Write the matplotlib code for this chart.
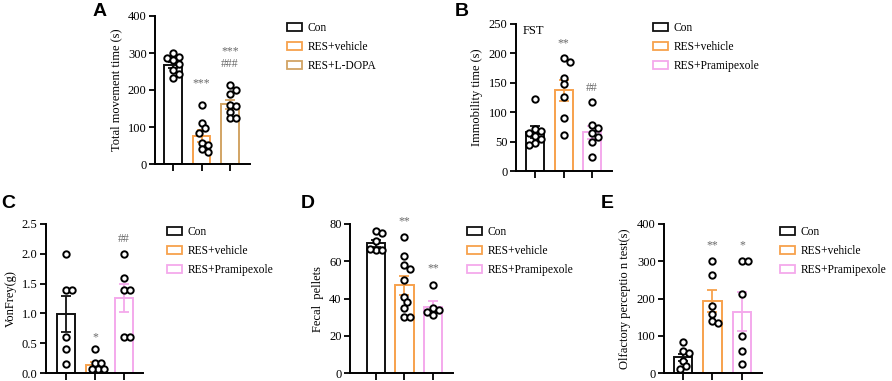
import matplotlib
matplotlib.use("Agg")
import matplotlib.pyplot as plt
from matplotlib.patches import Patch
import numpy as np

plt.rcParams["font.family"] = ["Liberation Serif", "DejaVu Serif"]

# colours
BLACK = "#111111"
ORANGE = "#F7A14C"
TAN = "#D2A464"
PINK = "#F4A9EC"
STAR = "#6a6a6a"

# ---- data ----
a_groups = ["Con", "RES+vehicle", "RES+L-DOPA"]
a_means = [268, 75, 161]
a_sem = [8, 16, 13]
a_points = [
    [300, 290, 287, 281, 270, 255, 243, 233],
    [159, 112, 96, 83, 58, 51, 40, 33],
    [213, 200, 189, 160, 157, 140, 123, 123],
]
a_marks = [("***", 202), ("***\n###", 253)]

b_groups = ["Con", "RES+vehicle", "RES+Pramipexole"]
b_means = [66, 137, 66]
b_sem = [10, 18, 11]
b_points = [
    [122, 72, 68, 65, 60, 55, 48, 45],
    [193, 185, 159, 148, 126, 90, 62],
    [118, 79, 73, 65, 58, 49, 24],
]
b_marks = [("**", 207), ("##", 131)]

c_means = [0.99, 0.14, 1.26]
c_sem = [0.30, 0.05, 0.23]
c_points = [
    [2.0, 1.4, 1.4, 0.6, 0.4, 0.15],
    [0.4, 0.16, 0.16, 0.06, 0.06, 0.06],
    [2.0, 1.6, 1.4, 1.4, 0.6, 0.6],
]
c_marks = [("*", 0.50), ("##", 2.14)]

d_means = [69.6, 47, 35.6]
d_sem = [2.0, 5.0, 3.0]
d_points = [
    [76, 75, 71, 66, 66, 66.5],
    [73, 63, 58, 56, 50, 41, 38, 35, 30, 30],
    [47, 35, 34, 33, 31],
]
d_marks = [("**", 78), ("**", 53)]

e_means = [42, 194, 165]
e_sem = [10, 30, 52]
e_points = [
    [84, 59, 54, 32, 18, 10],
    [300, 264, 181, 158, 140, 133],
    [300, 300, 212, 100, 60, 25],
]
e_marks = [("**", 326), ("*", 326)]

W, H = 892, 381
fig = plt.figure(figsize=(W / 100, H / 100), dpi=100)


def px_axes(x0, y0, x1, y1):
    return fig.add_axes([x0 / W, 1 - y1 / H, (x1 - x0) / W, (y1 - y0) / H])


def swarm(ax, xc, vals, d_px=6.0):
    # simple beeswarm placement in pixel space
    to_px = ax.transData
    placed = []
    xs = []
    x0_px = to_px.transform((xc, 0))[0]
    for v in vals:
        py = to_px.transform((xc, v))[1]
        for k in range(0, 12):
            offs = [0] if k == 0 else [k * d_px * 0.5, -k * d_px * 0.5]
            ok = None
            for o in offs:
                if all((o - px) ** 2 + (py - pyy) ** 2 >= d_px ** 2 for px, pyy in placed):
                    ok = o
                    break
            if ok is not None:
                break
        placed.append((ok, py))
        xd = to_px.inverted().transform((x0_px + ok, py))[0]
        xs.append(xd)
    return xs


def panel(ax, means, sem, points, colors, ylim, yticks, ylabel, xlim, marks,
          yfmt=None, width=0.63):
    x = np.arange(len(means))
    ax.set_xlim(*xlim)
    ax.set_ylim(*ylim)
    for i, (m, s, c) in enumerate(zip(means, sem, colors)):
        ax.bar(i, m, width=width, facecolor="white", edgecolor=c, linewidth=1.4, zorder=2)
        ax.errorbar(i, m, yerr=[[s], [s]], color=c, capsize=3.5, elinewidth=1.3,
                    capthick=1.3, zorder=3)
    for i, pts in enumerate(points):
        xs = swarm(ax, i, pts)
        ax.plot(xs, pts, "o", markersize=4.6, markerfacecolor="white",
                markeredgecolor="black", markeredgewidth=1.4, zorder=4, clip_on=False)
    for i, (txt, y) in enumerate(marks):
        ax.text(i + 1, y, txt, color=STAR, fontsize=8.5, ha="center", va="bottom",
                linespacing=1.1)
    ax.set_xticks(x)
    ax.set_xticklabels([])
    ax.set_yticks(yticks)
    if yfmt:
        ax.set_yticklabels([yfmt.format(t) for t in yticks])
    ax.set_ylabel(ylabel, fontsize=9)
    for sp in ["top", "right"]:
        ax.spines[sp].set_visible(False)
    for sp in ["left", "bottom"]:
        ax.spines[sp].set_linewidth(1.4)
    ax.tick_params(axis="y", labelsize=9, width=1.3, length=4, pad=2)
    ax.tick_params(axis="x", width=1.3, length=5)


def legend(ax, groups, colors, x_px, y_px):
    handles = [Patch(facecolor="white", edgecolor=c, linewidth=1.3) for c in colors]
    ax.legend(handles, groups, loc="upper left", bbox_to_anchor=(x_px / W, 1 - y_px / H),
              bbox_transform=fig.transFigure, frameon=False, fontsize=8.3,
              handlelength=1.3, handleheight=0.75, handletextpad=0.5,
              labelspacing=0.6, borderpad=0, borderaxespad=0)


# A
axA = px_axes(155, 16, 250, 164)
panel(axA, a_means, a_sem, a_points, [BLACK, ORANGE, TAN], (0, 400),
      [0, 100, 200, 300, 400], "Total movement time (s)", (-0.63, 2.7), a_marks)
legend(axA, a_groups, [BLACK, ORANGE, TAN], 287, 22)

# B
axB = px_axes(516, 24, 612, 171)
panel(axB, b_means, b_sem, b_points, [BLACK, ORANGE, PINK], (0, 250),
      [0, 50, 100, 150, 200, 250], "Immobility time (s)", (-0.67, 2.7), b_marks)
axB.text(-0.42, 238, "FST", fontsize=9, ha="left", va="center")
legend(axB, b_groups, [BLACK, ORANGE, PINK], 653, 22)

# C
axC = px_axes(46, 224, 143, 373)
panel(axC, c_means, c_sem, c_points, [BLACK, ORANGE, PINK], (0, 2.5),
      [0, 0.5, 1.0, 1.5, 2.0, 2.5], "VonFrey(g)", (-0.69, 2.66), c_marks,
      yfmt="{:.1f}")
legend(axC, b_groups, [BLACK, ORANGE, PINK], 167, 226)

# D
axD = px_axes(350, 224, 453, 373)
panel(axD, d_means, d_sem, d_points, [BLACK, ORANGE, PINK], (0, 80),
      [0, 20, 40, 60, 80], "Fecal  pellets", (-0.91, 2.7), d_marks, width=0.66)
legend(axD, b_groups, [BLACK, ORANGE, PINK], 467, 226)

# E
axE = px_axes(664, 224, 762, 373)
panel(axE, e_means, e_sem, e_points, [BLACK, ORANGE, PINK], (0, 400),
      [0, 100, 200, 300, 400], "Olfactory perceptio n test(s)", (-0.64, 2.68), e_marks)
legend(axE, b_groups, [BLACK, ORANGE, PINK], 780, 226)

# panel letters
for letter, x, y in [("A", 93, 3), ("B", 455, 3), ("C", 1, 195), ("D", 301, 195), ("E", 601, 195)]:
    fig.text(x / W, 1 - y / H, letter, fontsize=14, fontweight="bold",
             family="Liberation Sans", ha="left", va="top")

fig.savefig("out.png", dpi=100)
